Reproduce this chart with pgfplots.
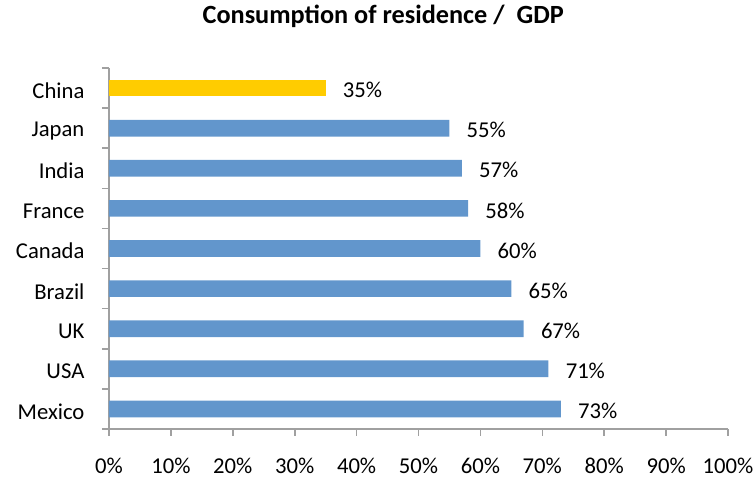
\documentclass[border=0pt]{standalone}
\usepackage{fontspec}
\setmainfont{Carlito}
\usepackage{pgfplots}
\pgfplotsset{compat=1.18}

\definecolor{barblue}{RGB}{98,150,204}
\definecolor{bargold}{RGB}{255,204,0}
\definecolor{axisgray}{RGB}{160,160,160}

\begin{document}
\begin{tikzpicture}
\begin{axis}[
    name=ax,
    scale only axis,
    width=464.25pt, height=270.75pt,
    xbar, bar width=12.5pt,
    xmin=0, xmax=100,
    ymin=-0.5, ymax=8.5,
    axis x line*=bottom,
    axis y line*=left,
    axis line style={axisgray, line width=1.2pt, -},
    tick align=outside,
    tick style={axisgray, line width=1.2pt},
    major tick length=5.25pt,
    minor tick length=5.25pt,
    xtick={0,10,...,100},
    xticklabel={\pgfmathprintnumber{\tick}\%},
    /pgf/number format/assume math mode=true,
    ytick={0,...,8},
    yticklabels={Mexico,USA,UK,Brazil,Canada,France,India,Japan,China},
    minor ytick={-0.5,0.5,...,8.5},
    major y tick style={draw=none},
    xticklabel style={inner sep=0pt, yshift=-16.5pt},
    yticklabel style={inner sep=0pt, xshift=-13pt, yshift=-2pt},
    tick label style={font=\fontsize{17}{20}\selectfont},
    title={\textbf{Consumption of residence /\ \ GDP}},
    title style={at={(axis description cs:0.443,1.1025)}, anchor=base, inner sep=0pt, font=\fontsize{19.7}{23}\selectfont},
    nodes near coords={\pgfmathprintnumber{\pgfplotspointmeta}\%},
    nodes near coords style={anchor=west, inner sep=0pt, xshift=12.75pt, yshift=-1.5pt, font=\fontsize{17}{20}\selectfont},
    clip=false,
]
\addplot[bar shift=0pt, fill=barblue, draw=none] coordinates {
    (73,0) (71,1) (67,2) (65,3) (60,4) (58,5) (57,6) (55,7)
};
\addplot[bar shift=0pt, fill=bargold, draw=none] coordinates {
    (35,8)
};
\end{axis}
\pgfresetboundingbox
\path[use as bounding box] (ax.south west) ++(-81.75pt,-39pt) rectangle ++(567pt,360.75pt);
\end{tikzpicture}
\end{document}
